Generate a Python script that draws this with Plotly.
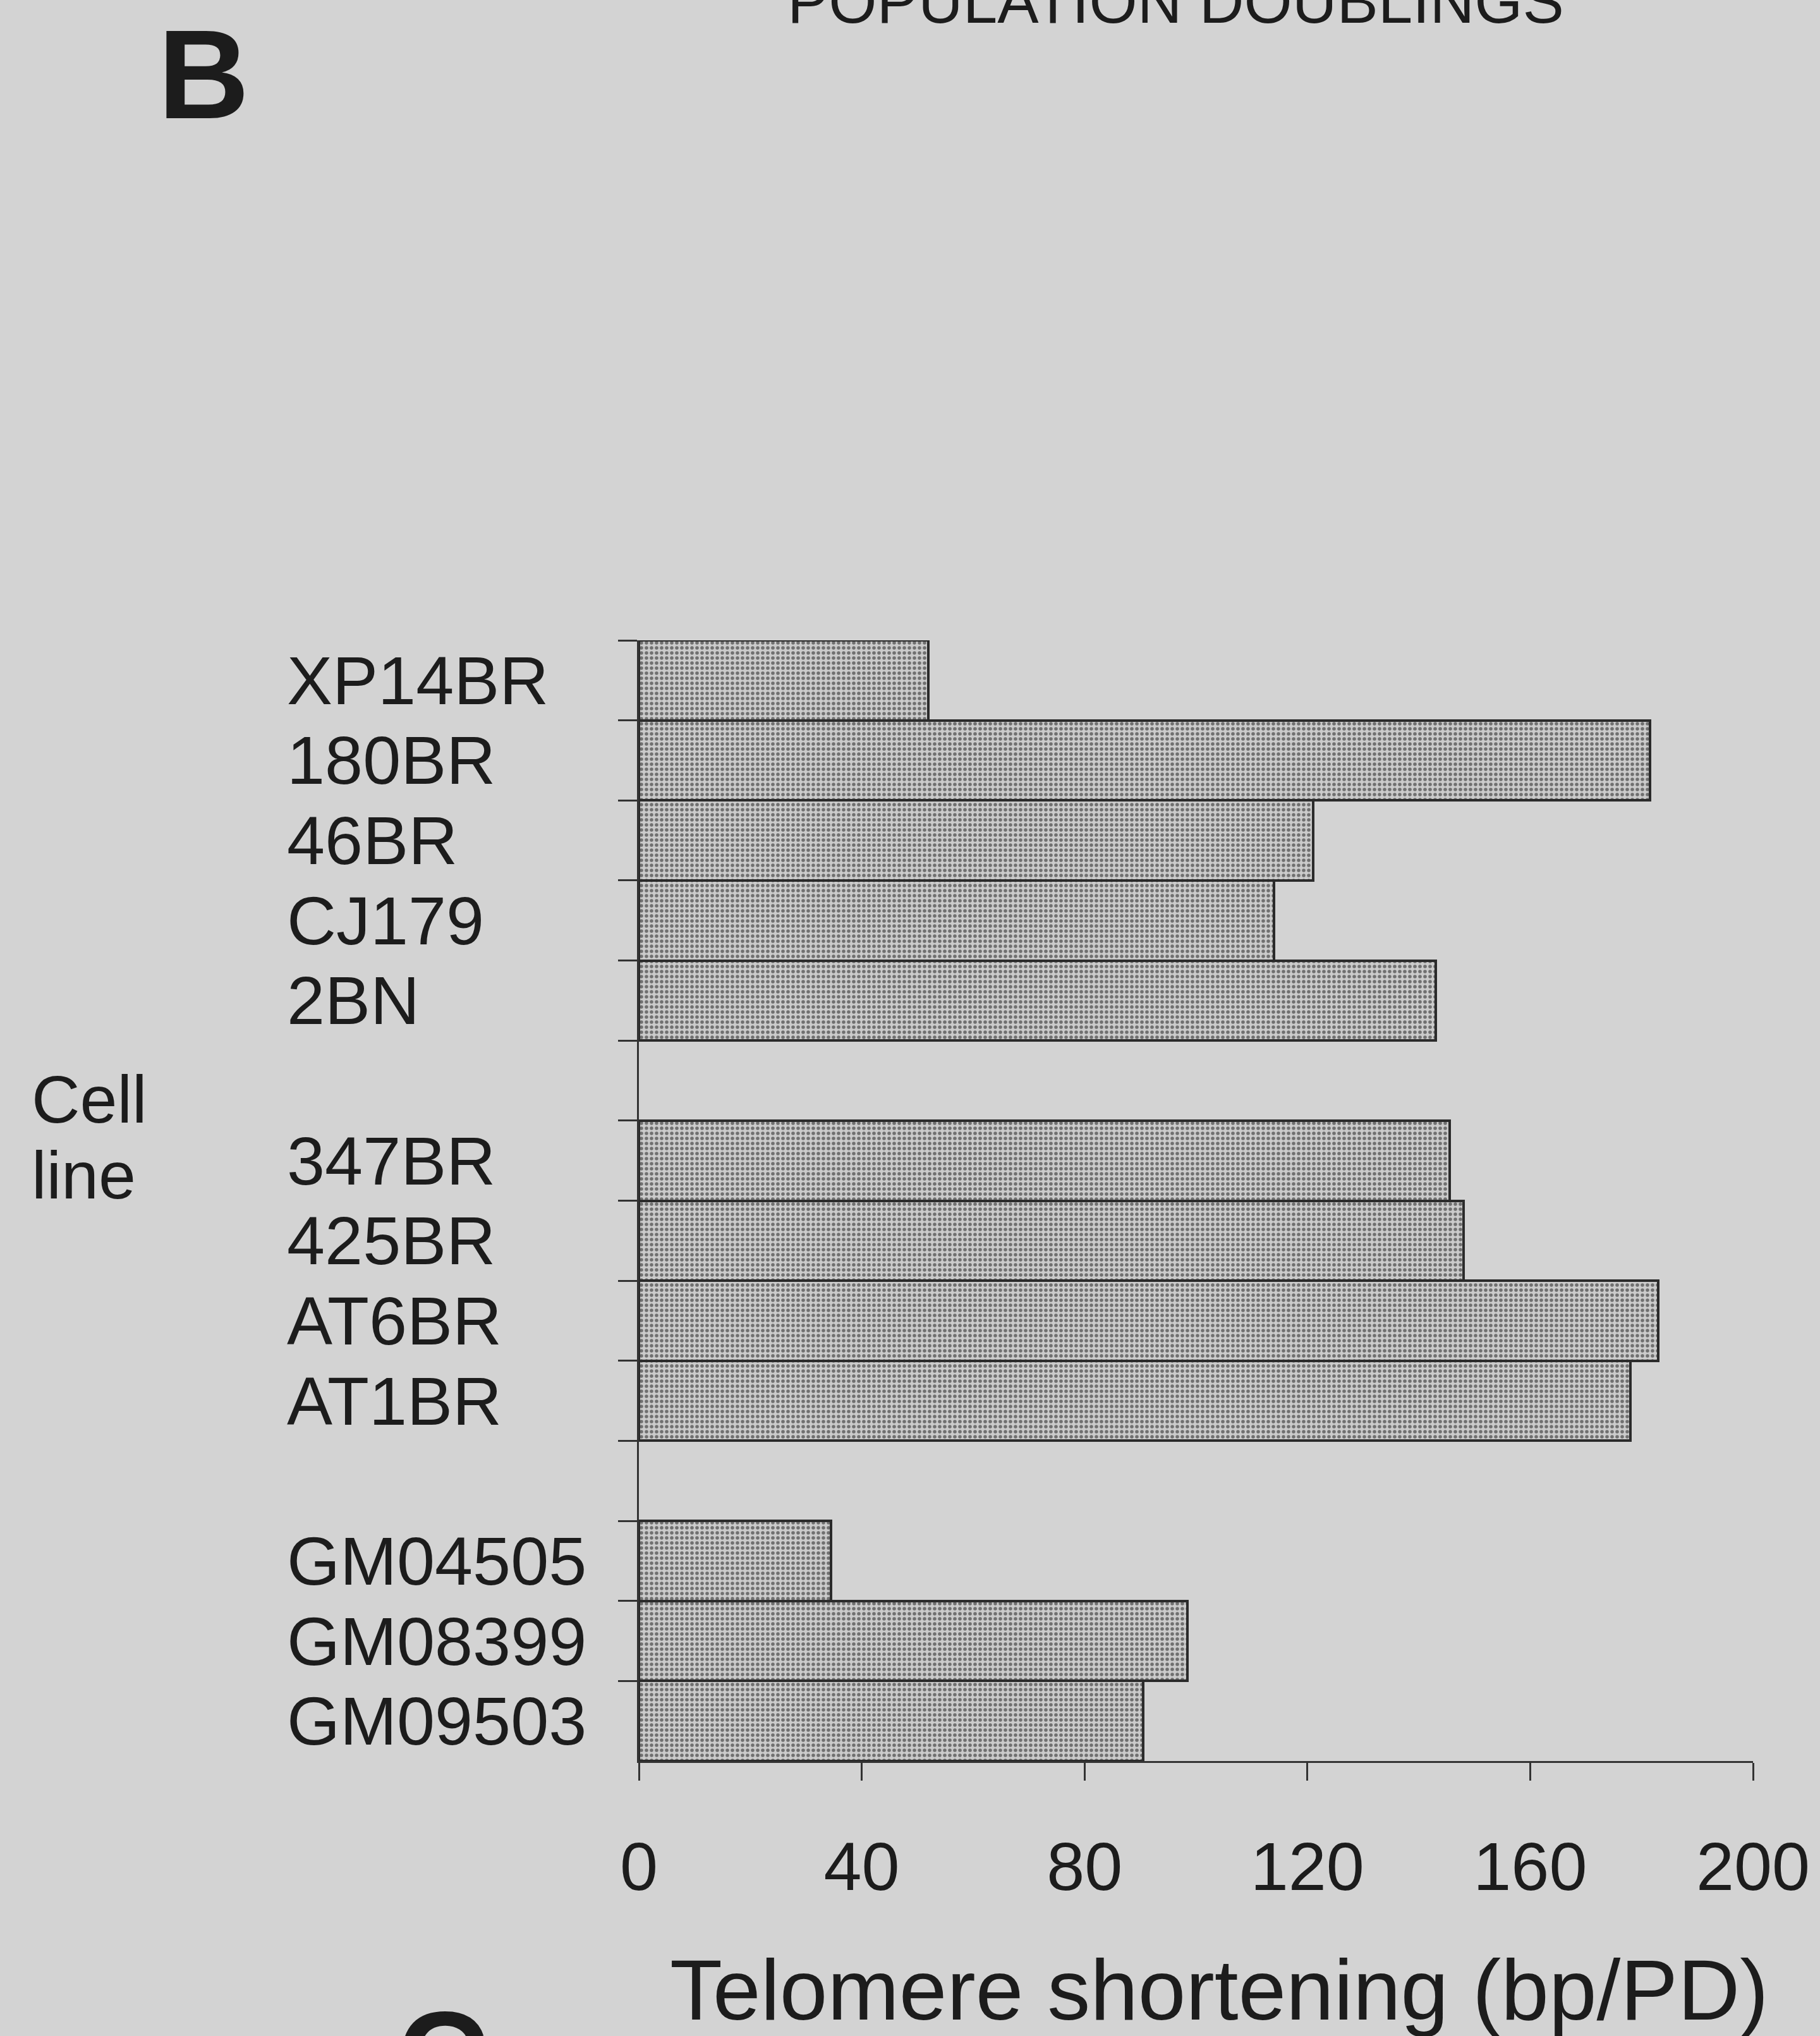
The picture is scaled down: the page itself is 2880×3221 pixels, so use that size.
import plotly.graph_objects as go

# Telomere shortening rate per population doubling, three groups of cell lines
group_a = ["XP14BR", "180BR", "46BR", "CJ179", "2BN"]
shortening_a = [52, 181.5, 121, 114, 143]

group_b = ["347BR", "425BR", "AT6BR", "AT1BR"]
shortening_b = [145.5, 148, 183, 178]

group_c = ["GM04505", "GM08399", "GM09503"]
shortening_c = [34.5, 98.5, 90.5]

x_ticks = [0, 40, 80, 120, 160, 200]

# empty slots separate the groups on the category axis
slots = group_a + [" "] + group_b + ["  "] + group_c
names = group_a + group_b + group_c
values = shortening_a + shortening_b + shortening_c

W, H = 2880, 3221
L, R, T, B = 1011, 2774, 1013, 2786
FONT = "Liberation Sans, Arial, Helvetica, sans-serif"
INK = "#1c1c1c"
BG = "#d3d3d3"


def px_x(p):
    return (p - L) / (R - L)


def px_y(p):
    return (B - p) / (B - T)


fig = go.Figure()
fig.add_trace(go.Bar(
    x=values,
    y=names,
    orientation="h",
    marker=dict(
        color="#c8c8c8",
        line=dict(color="#2b2b2b", width=4),
        pattern=dict(shape=".", fgcolor="#707070", bgcolor="#cbcbcb",
                     size=8, solidity=0.38, fillmode="replace"),
    ),
    width=1.0,
    showlegend=False,
))

annotations = []
# left-aligned cell line names
for n in names:
    annotations.append(dict(
        x=px_x(452), xref="paper", y=n, yref="y",
        text=n, showarrow=False, xanchor="left", yanchor="middle",
        font=dict(family=FONT, size=108, color=INK),
    ))

annotations += [
    dict(x=px_x(48), xref="paper", y=px_y(1739), yref="paper", text="Cell",
         showarrow=False, xanchor="left", yanchor="middle",
         font=dict(family=FONT, size=106, color=INK)),
    dict(x=px_x(48), xref="paper", y=px_y(1859), yref="paper", text="line",
         showarrow=False, xanchor="left", yanchor="middle",
         font=dict(family=FONT, size=106, color=INK)),
    dict(x=px_x(1929), xref="paper", y=px_y(3148), yref="paper",
         text="Telomere shortening (bp/PD)", showarrow=False,
         xanchor="center", yanchor="middle",
         font=dict(family=FONT, size=136, color=INK)),
    dict(x=px_x(322), xref="paper", y=px_y(117), yref="paper", text="<b>B</b>",
         showarrow=False, xanchor="center", yanchor="middle",
         font=dict(family=FONT, size=200, color=INK)),
    dict(x=px_x(700), xref="paper", y=px_y(3252), yref="paper", text="<b>C</b>",
         showarrow=False, xanchor="center", yanchor="middle",
         font=dict(family=FONT, size=200, color=INK)),
    dict(x=px_x(1860), xref="paper", y=px_y(2), yref="paper",
         text="POPULATION DOUBLINGS", showarrow=False,
         xanchor="center", yanchor="middle",
         font=dict(family=FONT, size=98, color=INK)),
]

fig.update_layout(
    width=W, height=H,
    margin=dict(l=L, r=W - R, t=T, b=H - B, pad=0),
    paper_bgcolor=BG, plot_bgcolor=BG,
    bargap=0,
    annotations=annotations,
    xaxis=dict(
        range=[0, 200], tickmode="array", tickvals=x_ticks,
        ticktext=[str(v) for v in x_ticks],
        ticks="outside", ticklen=28, tickwidth=3, tickcolor="#333333",
        showline=True, linewidth=3, linecolor="#333333",
        showgrid=False, zeroline=False,
        tickfont=dict(family=FONT, size=108, color=INK),
        ticklabelstandoff=43,
    ),
    yaxis=dict(
        type="category", categoryorder="array", categoryarray=slots,
        range=[len(slots) - 0.5, -0.5],
        tickson="boundaries", ticks="outside", ticklen=30, tickwidth=3,
        tickcolor="#333333", showticklabels=False,
        showline=True, linewidth=3, linecolor="#333333",
        showgrid=False, zeroline=False,
    ),
)

fig.write_html("out.html")
